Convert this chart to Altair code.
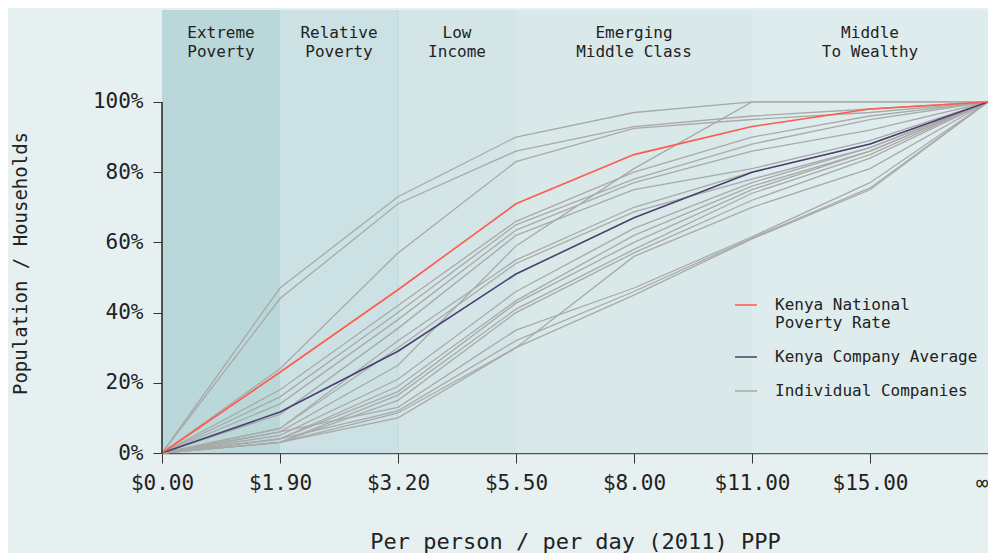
import json
import altair as alt
import pandas as pd

# ---------------- data ----------------
x_labels = ["$0.00", "$1.90", "$3.20", "$5.50", "$8.00", "$11.00", "$15.00", "∞"]
x_pos = [0, 1, 2, 3, 4, 5, 6, 7]

national_rate = [0, 23, 46.5, 71, 85, 93, 98, 100]
company_average = [0, 11.7, 29, 51, 67, 80, 88, 100]

companies = [
    [0, 47, 73, 90, 97, 100, 100, 100],
    [0, 44, 71, 86, 93, 96, 98, 100],
    [0, 24, 57, 83, 92.5, 95, 97, 100],
    [0, 18, 42, 66, 80, 90, 96, 100],
    [0, 16, 40, 65, 78, 88, 95, 100],
    [0, 14, 38, 63.5, 77, 86, 92, 100],
    [0, 11, 35.5, 62, 75, 81, 89, 100],
    [0, 7, 32, 55, 70, 80, 88, 100],
    [0, 7, 30, 54, 68.7, 78, 87, 100],
    [0, 6, 25, 59, 81, 100, 100, 100],
    [0, 5, 21, 46, 64, 77, 87, 100],
    [0, 4, 19, 43.4, 62, 76, 86, 100],
    [0, 4, 17.5, 42.7, 60, 75, 86, 100],
    [0, 3, 16.5, 41, 58, 74, 85, 100],
    [0, 3, 15, 40, 57, 72, 84, 100],
    [0, 3, 11.4, 30, 56, 70, 81, 100],
    [0, 6, 13, 35, 47, 61.6, 77, 100],
    [0, 4, 12, 32, 46, 61.2, 75.5, 100],
    [0, 3, 10, 30, 45, 61, 75, 100],
]

band_labels = ["Extreme\nPoverty", "Relative\nPoverty", "Low\nIncome",
               "Emerging\nMiddle Class", "Middle\nTo Wealthy"]
band_start = [0, 1, 2, 3, 5]
band_end = [1, 2, 3, 5, 7]
band_colors = ["#bad8da", "#cce1e3", "#d3e5e6", "#d9e8e8", "#dfeced"]

series_names = ["Kenya National Poverty Rate", "Kenya Company Average", "Individual Companies"]
series_colors = ["#ff5a4b", "#4a3f6d", "#a9a9a9"]

# ---------------- tables ----------------
rows = []
for i, vals in enumerate(companies):
    for xp, v in zip(x_pos, vals):
        rows.append({"type": series_names[2], "id": f"c{i}", "x": xp, "y": v})
for xp, v in zip(x_pos, company_average):
    rows.append({"type": series_names[1], "id": "avg", "x": xp, "y": v})
for xp, v in zip(x_pos, national_rate):
    rows.append({"type": series_names[0], "id": "nat", "x": xp, "y": v})
lines_df = pd.DataFrame(rows)

bands_df = pd.DataFrame({
    "x": band_start, "x2": band_end, "color": band_colors, "label": band_labels,
    "xc": [(a + b) / 2 for a, b in zip(band_start, band_end)],
})

FONT = "DejaVu Sans Mono"
TXT = "#222222"
X_TITLE = "Per person / per day (2011) PPP"
Y_TITLE = "Population / Households"

xscale = alt.Scale(domain=[0, 7], nice=False, zero=False)
yscale = alt.Scale(domain=[0, 126.2], nice=False)

label_expr = json.dumps(x_labels) + "[datum.value]"
xaxis = alt.Axis(values=x_pos, labelExpr=label_expr, grid=False, labelFlush=False,
                 labelOverlap=False,
                 labelAlign={"expr": "datum.value == 7 ? 'right' : 'center'"},
                 tickSize=10, tickColor="#333333", domainColor="#555555", domainWidth=1.5,
                 labelFontSize=21, labelPadding=9, labelColor=TXT, labelFont=FONT,
                 titleFontSize=22, titleFontWeight="normal", titlePadding=38,
                 titleColor=TXT, titleFont=FONT)
yaxis = alt.Axis(values=[0, 20, 40, 60, 80, 100], labelExpr="datum.value + '%'",
                 grid=False, domain=False, tickSize=9, tickColor="#333333",
                 labelFontSize=21, labelPadding=10, labelColor=TXT, labelFont=FONT,
                 titleFontSize=19, titleFontWeight="normal", titleColor=TXT, titleFont=FONT,
                 titleX=-142, titleY=253, titleAlign="center", titleBaseline="middle",
                 titleAngle=-90)

bands = alt.Chart(bands_df).mark_rect().encode(
    x=alt.X("x:Q", scale=xscale, axis=xaxis, title=X_TITLE),
    x2="x2:Q",
    fill=alt.Fill("color:N", scale=None),
)

divider = alt.Chart(pd.DataFrame({"x": [2]})).mark_rule(color="#bdd8d9", strokeWidth=1).encode(
    x=alt.X("x:Q", scale=xscale, axis=xaxis, title=X_TITLE),
)

band_text = alt.Chart(bands_df).mark_text(
    lineBreak="\n", lineHeight=19, fontSize=16, font=FONT, color=TXT,
    baseline="top", align="center",
).encode(
    x=alt.X("xc:Q", scale=xscale, axis=xaxis, title=X_TITLE),
    y=alt.value(15),
    text="label:N",
)

color = alt.Color(
    "type:N",
    scale=alt.Scale(domain=series_names, range=series_colors),
    legend=alt.Legend(
        title=None, orient="none", legendX=572, legendY=283,
        symbolType="stroke", symbolSize=484, symbolStrokeWidth=1.5,
        labelFont=FONT, labelFontSize=16, labelColor=TXT, labelOffset=17,
        rowPadding=14, padding=0, labelLimit=400,
        labelExpr="datum.label == 'Kenya National Poverty Rate' ? ['Kenya National', 'Poverty Rate'] : datum.label",
    ),
)


def line_layer(name, width):
    return alt.Chart(lines_df).transform_filter(
        alt.datum.type == name
    ).mark_line(strokeWidth=width).encode(
        x=alt.X("x:Q", scale=xscale, axis=xaxis, title=X_TITLE),
        y=alt.Y("y:Q", scale=yscale, axis=yaxis, title=Y_TITLE),
        color=color,
        detail="id:N",
    )


gray = line_layer(series_names[2], 1.3)
purple = line_layer(series_names[1], 1.6)
red = line_layer(series_names[0], 1.6)

y_domain = alt.Chart(pd.DataFrame({"x": [0], "y": [0], "y2": [100]})).mark_rule(
    color="#222222", strokeWidth=1.5
).encode(
    x=alt.X("x:Q", scale=xscale, axis=xaxis, title=X_TITLE),
    y=alt.Y("y:Q", scale=yscale, axis=yaxis, title=Y_TITLE),
    y2="y2:Q",
)

chart = alt.layer(bands, divider, band_text, gray, purple, red, y_domain).properties(
    width=826, height=443,
    autosize=alt.AutoSizeParams(type="none"),
    padding={"left": 154, "top": 2, "right": 0, "bottom": 100},
    background="#e7f0f1",
).configure_view(stroke=None).configure(font=FONT)

chart.save("out.html", embed_options={"renderer": "svg", "actions": False})
